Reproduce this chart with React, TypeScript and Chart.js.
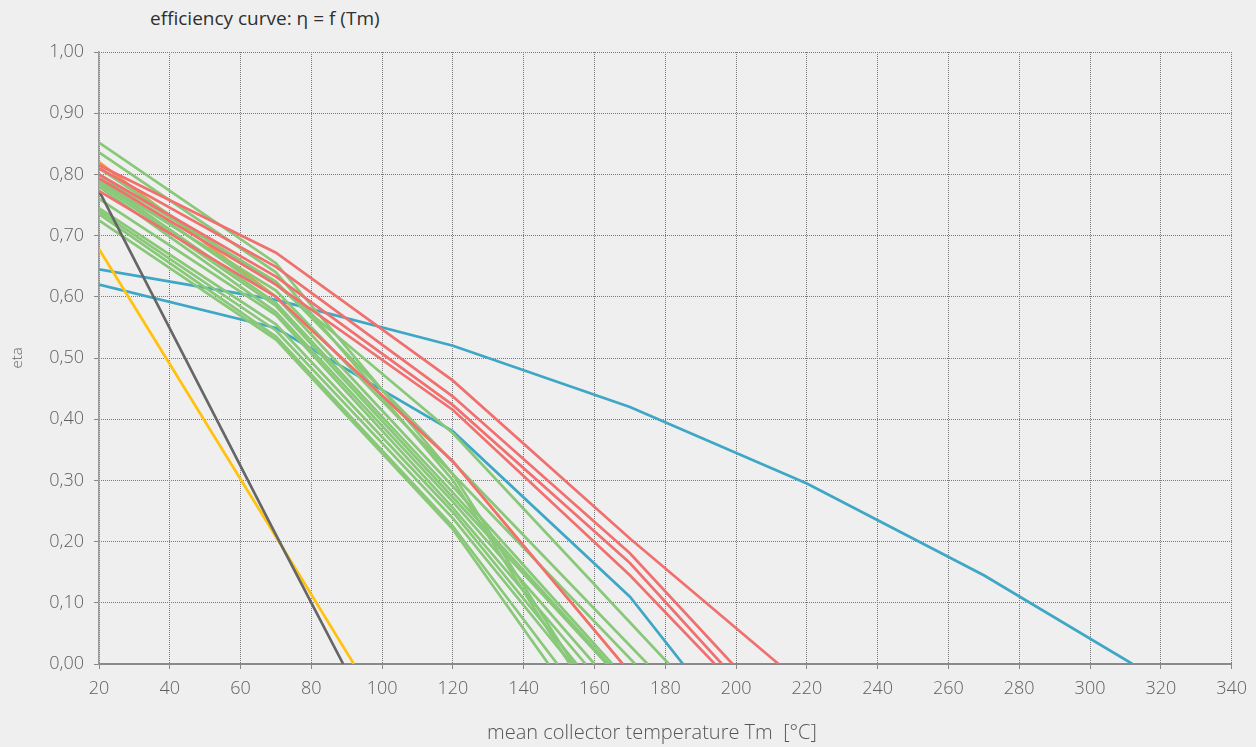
import React, { useEffect, useRef } from 'react';
import { Chart, registerables } from 'chart.js';

Chart.register(...registerables);

// Temperatures (°C) at which the curves were sampled
const TEMPS = [20, 70, 120, 170, 220, 270];
const X_TICKS = [20, 40, 60, 80, 100, 120, 140, 160, 180, 200, 220, 240, 260, 280, 300, 320, 340];
const Y_TICK_LABELS = ['0,00', '0,10', '0,20', '0,30', '0,40', '0,50', '0,60', '0,70', '0,80', '0,90', '1,00'];
const TITLE = 'efficiency curve: η = f (Tm)';
const X_TITLE = 'mean collector temperature Tm  [°C]';
const Y_TITLE = 'eta';

// eta values at TEMPS; each curve ends at eta = 0 at its end temperature
const blue1 = [0.645, 0.595, 0.52, 0.42, 0.295, 0.145];
const blue2 = [0.62, 0.549, 0.38, 0.11];
const blueEnds = [312, 185];

const red1 = [0.815, 0.672, 0.463, 0.205];
const red2 = [0.81, 0.649, 0.437, 0.181];
const red3 = [0.80, 0.633, 0.423, 0.165];
const red4 = [0.794, 0.62, 0.415, 0.145];
const red5 = [0.773, 0.60, 0.331];
const redEnds = [212, 199, 196, 194, 168];

const gray1 = [0.773, 0.211];
const grayEnd = 89;
const yellow1 = [0.678, 0.208];
const yellowEnd = 92;
const orange1 = [0.82, 0.60, 0.331];
const orangeEnd = 168;

const green1 = [0.852, 0.655, 0.31];
const green2 = [0.836, 0.64, 0.30];
const green3 = [0.81, 0.62, 0.377];
const green4 = [0.80, 0.625, 0.33];
const green5 = [0.79, 0.61, 0.31];
const green6 = [0.80, 0.60, 0.29];
const green7 = [0.79, 0.59, 0.28];
const green8 = [0.785, 0.585, 0.272];
const green9 = [0.78, 0.575, 0.265];
const green10 = [0.76, 0.57, 0.255];
const green11 = [0.745, 0.555, 0.248];
const green12 = [0.74, 0.545, 0.238];
const green13 = [0.735, 0.535, 0.225];
const green14 = [0.725, 0.53, 0.22];
const greenEnds = [154, 153, 181, 175, 171.5, 165, 164, 163.5, 160, 157.5, 155, 153.5, 149.5, 147];

const BLUE = '#3fa7c6';
const RED = '#f07070';
const GREEN = '#88c878';
const GRAY = '#666666';
const YELLOW = '#ffc20e';
const ORANGE = '#f5953a';

const FONT = "'Open Sans', Roboto, sans-serif";

function pts(vals: number[], end: number) {
  const p = vals.map((v, i) => ({ x: TEMPS[i], y: v }));
  p.push({ x: end, y: 0 });
  return p;
}

function ds(label: string, data: { x: number; y: number }[], color: string) {
  return {
    label,
    data,
    borderColor: color,
    backgroundColor: color,
    borderWidth: 2.7,
    pointRadius: 0,
    pointHoverRadius: 0,
    showLine: true,
    tension: 0,
    fill: false,
  };
}

export default function App() {
  const ref = useRef<HTMLCanvasElement | null>(null);

  useEffect(() => {
    if (!ref.current) return;
    const reds = [red1, red2, red3, red4, red5];
    const greens = [green1, green2, green3, green4, green5, green6, green7, green8, green9, green10, green11, green12, green13, green14];
    const datasets: any[] = [];
    reds.forEach((r, i) => datasets.push(ds('red ' + (i + 1), pts(r, redEnds[i]), RED)));
    datasets.push(ds('gray', pts(gray1, grayEnd), GRAY));
    datasets.push(ds('yellow', pts(yellow1, yellowEnd), YELLOW));
    greens.forEach((g, i) => datasets.push(ds('green ' + (i + 1), pts(g, greenEnds[i]), GREEN)));
    datasets.push(ds('blue 1', pts(blue1, blueEnds[0]), BLUE));
    datasets.push(ds('blue 2', pts(blue2, blueEnds[1]), BLUE));
    datasets.push(ds('orange', pts(orange1, orangeEnd), ORANGE));

    const tickFont = { family: FONT, size: 18, weight: 300 as any };
    const chart = new Chart(ref.current, {
      type: 'scatter',
      data: { datasets },
      options: {
        animation: false,
        responsive: false,
        devicePixelRatio: 1,
        events: [],
        layout: { padding: { left: 0, top: 52, right: 21, bottom: 0 } },
        plugins: { legend: { display: false }, tooltip: { enabled: false }, title: { display: false } },
        scales: {
          x: {
            type: 'linear',
            min: 20,
            max: 340,
            afterFit: (s: any) => { s.height = 83; },
            afterBuildTicks: (s: any) => { s.ticks = X_TICKS.map((v) => ({ value: v })); },
            ticks: { color: '#5f5f5f', font: tickFont, padding: 9, maxRotation: 0, autoSkip: false, callback: (v: any) => String(v) },
            grid: { color: '#7a7a7a', lineWidth: 1, tickColor: '#888', tickLength: 5, tickBorderDash: [] },
            border: { display: true, color: '#8a8a8a', width: 2, dash: [1, 1] },
            title: { display: false },
          },
          y: {
            type: 'linear',
            min: 0,
            max: 1,
            afterFit: (s: any) => { s.width = 99; },
            afterBuildTicks: (s: any) => { s.ticks = Y_TICK_LABELS.map((_, i) => ({ value: i / 10 })); },
            ticks: {
              color: '#5f5f5f',
              font: tickFont,
              padding: 10,
              autoSkip: false,
              callback: (_v: any, i: number) => Y_TICK_LABELS[i],
            },
            grid: { color: '#7a7a7a', lineWidth: 1, tickColor: '#888', tickLength: 5, tickBorderDash: [] },
            border: { display: true, color: '#9a9a9a', width: 1.5, dash: [1, 1], dashOffset: 0.5 },
            title: {
              display: true,
              text: Y_TITLE,
              color: '#666',
              font: { family: FONT, size: 15, weight: 300 as any },
              padding: { top: 9, bottom: 0 },
            },
          },
        },
      } as any,
    });
    return () => chart.destroy();
  }, []);

  return (
    <div style={{ position: 'absolute', left: 0, top: 0, width: 1256, height: 747, background: '#efefef', overflow: 'hidden' }}>
      <div
        style={{
          position: 'absolute',
          left: 150,
          top: 5,
          fontFamily: FONT,
          fontSize: 19,
          fontWeight: 400,
          color: '#2f2f2f',
          whiteSpace: 'pre',
          lineHeight: '26px',
        }}
      >
        {TITLE}
      </div>
      <canvas ref={ref} width={1256} height={747} style={{ position: 'absolute', left: 0, top: 0 }} />
      <div
        style={{
          position: 'absolute',
          left: 652,
          top: 719,
          transform: 'translateX(-50%)',
          fontFamily: FONT,
          fontSize: 20,
          fontWeight: 300,
          color: '#555',
          whiteSpace: 'pre',
          lineHeight: '26px',
        }}
      >
        {X_TITLE}
      </div>
    </div>
  );
}
